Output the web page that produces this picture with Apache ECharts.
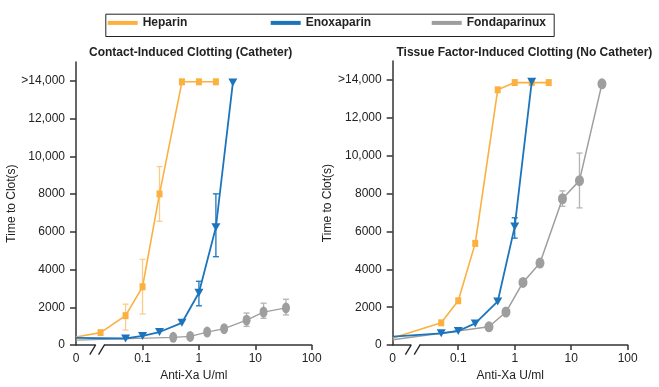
<!DOCTYPE html>
<html><head><meta charset="utf-8">
<script src="https://cdn.jsdelivr.net/npm/echarts@6/dist/echarts.min.js"></script>
<style>html,body{margin:0;padding:0;background:#fff}#c{width:659px;height:387px}</style>
</head><body><div id="c"></div>
<script>
// ---------- data ----------
const seriesNames = ['Heparin', 'Enoxaparin', 'Fondaparinux'];
const panelTitles = ['Contact-Induced Clotting (Catheter)', 'Tissue Factor-Induced Clotting (No Catheter)'];
const xTickValues = [0, 0.1, 1, 10, 100];
const xTickLabels = ['0', '0.1', '1', '10', '100'];
const yTickValues = [0, 2000, 4000, 6000, 8000, 10000, 12000, 14000];
const yTickLabels = ['0', '2000', '4000', '6000', '8000', '10,000', '12,000', '>14,000'];

// Left panel: contact-induced (catheter)
const heparinDoseL = [0, 0.018, 0.05, 0.1, 0.2, 0.5, 1, 2];
const heparinTimeL = [430, 660, 1560, 3090, 8010, 13950, 13950, 13950];
const heparinErrL  = [null, null, [800, 2170], [1650, 4540], [6560, 9460], null, null, null];
const enoxDoseL = [0, 0.05, 0.1, 0.2, 0.5, 1, 2, 4];
const enoxTimeL = [380, 350, 484, 692, 1181, 2774, 6245, 13910];
const enoxErrL  = [null, null, null, null, null, [2082, 3383], [4684, 8014], null];
const fondaDoseL = [0, 0.35, 0.7, 1.4, 2.8, 7, 14, 35];
const fondaTimeL = [260, 410, 460, 690, 870, 1320, 1750, 1970];
const fondaErrL  = [null, null, null, null, null, [990, 1700], [1420, 2220], [1600, 2430]];

// Right panel: tissue factor-induced (no catheter)
const heparinDoseR = [0, 0.05, 0.1, 0.2, 0.5, 1, 2, 4];
const heparinTimeR = [380, 1175, 2340, 5370, 13480, 13860, 13860, 13860];
const heparinErrR  = [null, null, null, null, null, null, null, null];
const enoxDoseR = [0, 0.05, 0.1, 0.2, 0.5, 1, 2];
const enoxTimeR = [450, 624, 744, 1144, 2304, 6256, 13900];
const enoxErrR  = [null, null, null, null, null, [5647, 6723], null];
const fondaDoseR = [0, 0.35, 0.7, 1.4, 2.8, 7, 14, 35];
const fondaTimeR = [280, 967, 1747, 3307, 4332, 7727, 8684, 13796];
const fondaErrR  = [null, null, null, null, null, [7332, 8143], [7244, 10140], null];

// ---------- styles ----------
const FONT = 'Liberation Sans, Arial, Helvetica, sans-serif';
const TXT = '#222';
const AX = '#333';
const colors = { Heparin: '#FBB040', Enoxaparin: '#1C75BC', Fondaparinux: '#9E9E9E' };
const errColors = { Heparin: '#FCCB8C', Enoxaparin: '#1C75BC', Fondaparinux: '#B3B3B3' };
const T0 = [-2.18, -2.16];      // axis position used for dose 0 (log10 units)
const T_BREAK = -1.76;          // position of the axis break
const X_MAX = 2;                // log10(100)
const legendLefts = [107.7, 270.7, 431.7];

function tx(d, p) { return d === 0 ? T0[p] : Math.log10(d); }

function lineSeries(name, doses, times, p, sym) {
  return {
    type: 'line', name: name, xAxisIndex: p, yAxisIndex: p,
    data: doses.map((d, i) => d === 0 ? { value: [tx(d, p), times[i]], symbol: 'none' } : [tx(d, p), times[i]]),
    symbol: sym.symbol, symbolSize: sym.size, symbolRotate: sym.rotate || 0,
    showSymbol: true,
    lineStyle: { color: colors[name], width: sym.lw },
    itemStyle: { color: colors[name] },
    emphasis: { disabled: true }, z: sym.z, animation: false, silent: true
  };
}

function errSeries(name, doses, errs, p) {
  const data = [];
  doses.forEach((d, i) => { if (errs[i]) data.push([tx(d, p), errs[i][0], errs[i][1]]); });
  return {
    type: 'custom', name: name + '-err', xAxisIndex: p, yAxisIndex: p, data: data,
    encode: { x: 0, y: [1, 2] }, z: 1, animation: false, silent: true,
    renderItem: (params, api) => {
      const x = api.value(0);
      const pl = api.coord([x, api.value(1)]);
      const ph = api.coord([x, api.value(2)]);
      const w = 3;
      const st = { stroke: errColors[name], lineWidth: 1.3 };
      return { type: 'group', children: [
        { type: 'line', shape: { x1: pl[0], y1: pl[1], x2: ph[0], y2: ph[1] }, style: st },
        { type: 'line', shape: { x1: ph[0] - w, y1: ph[1], x2: ph[0] + w, y2: ph[1] }, style: st },
        { type: 'line', shape: { x1: pl[0] - w, y1: pl[1], x2: pl[0] + w, y2: pl[1] }, style: st }
      ]};
    }
  };
}

function breakSeries(p) {
  return {
    type: 'custom', name: 'break' + p, xAxisIndex: p, yAxisIndex: p, data: [[T_BREAK, 0]],
    encode: { x: 0, y: 1 }, z: 10, clip: false, animation: false, silent: true,
    renderItem: (params, api) => {
      const c = api.coord([api.value(0), 0]);
      const h = 4.4;
      const st = { stroke: '#222', lineWidth: 1.3 };
      return { type: 'group', children: [
        { type: 'rect', shape: { x: c[0] - h, y: c[1] - 1.5, width: 2 * h, height: 3 }, style: { fill: '#fff' } },
        { type: 'line', shape: { x1: c[0] - h - 5.5, y1: c[1] + 9.5, x2: c[0] - h + 0.5, y2: c[1] - 0.5 }, style: st },
        { type: 'line', shape: { x1: c[0] + h - 5.5, y1: c[1] + 9.5, x2: c[0] + h + 0.5, y2: c[1] - 0.5 }, style: st }
      ]};
    }
  };
}

function xAxisCfg(p) {
  return {
    type: 'value', gridIndex: p, min: T0[p], max: X_MAX,
    axisLine: { show: true, onZero: false, lineStyle: { color: AX, width: 1.5 } },
    axisTick: { show: true, length: 5, lineStyle: { color: AX, width: 1.5 },
      customValues: xTickValues.filter(v => v > 0).map(v => tx(v, p)) },
    axisLabel: { customValues: xTickValues.map(v => tx(v, p)), margin: 8,
      fontSize: 12, color: TXT, fontFamily: FONT,
      formatter: (val) => {
        let best = 0, bd = 1e9;
        xTickValues.forEach((v, i) => { const dd = Math.abs(tx(v, p) - val); if (dd < bd) { bd = dd; best = i; } });
        return xTickLabels[best];
      } },
    splitLine: { show: false },
    name: 'Anti-Xa U/ml', nameLocation: 'middle', nameGap: 22,
    nameTextStyle: { fontSize: 12, color: TXT, fontFamily: FONT }
  };
}

function yAxisCfg(p, gap) {
  return {
    type: 'value', gridIndex: p, min: 0, max: 15000,
    axisLine: { show: true, onZero: false, lineStyle: { color: AX, width: 1.5 } },
    axisTick: { show: true, length: 6, lineStyle: { color: AX, width: 1.5 }, customValues: yTickValues },
    axisLabel: { customValues: yTickValues, margin: 11, fontSize: 12, color: TXT, fontFamily: FONT,
      formatter: (val) => { const i = yTickValues.indexOf(Math.round(val)); return i >= 0 ? yTickLabels[i] : ''; } },
    splitLine: { show: false },
    name: 'Time to Clot(s)', nameLocation: 'middle', nameGap: gap,
    nameTextStyle: { fontSize: 12, color: TXT, fontFamily: FONT }
  };
}

const symH = { symbol: 'rect', size: [6, 7], lw: 1.6, z: 3 };
const symE = { symbol: 'triangle', size: [9, 8], rotate: 180, lw: 1.8, z: 4 };
const symF = { symbol: 'circle', size: [8, 11], lw: 1.3, z: 2 };
const symFR = { symbol: 'circle', size: [9, 11], lw: 1.5, z: 2 };

const legendTextBase = { fontSize: 12, fontWeight: 'bold', color: TXT, fontFamily: FONT };

const option = {
  backgroundColor: '#fff',
  animation: false,
  title: [
    { text: panelTitles[0], left: 89, top: 46.5, padding: 0,
      textStyle: { fontSize: 12, fontWeight: 'bold', color: TXT, fontFamily: FONT } },
    { text: panelTitles[1], left: 396.5, top: 47, padding: 0,
      textStyle: { fontSize: 12, fontWeight: 'bold', color: TXT, fontFamily: FONT } }
  ],
  legend: seriesNames.map((n, i) => ({
    left: legendLefts[i], top: 16.9, padding: 0,
    icon: 'rect', itemWidth: 30, itemHeight: 4, selectedMode: false,
    data: [n], textStyle: legendTextBase
  })),
  graphic: [{
    type: 'rect', left: 103.3, top: 11.7, silent: true,
    shape: { width: 448.4, height: 22.3 },
    style: { fill: 'none', stroke: '#222', lineWidth: 1 }
  }],
  grid: [
    { left: 76, top: 62, width: 235.7, height: 288, containLabel: false },
    { left: 392.7, top: 61, width: 235, height: 288.3, containLabel: false }
  ],
  xAxis: [xAxisCfg(0), xAxisCfg(1)],
  yAxis: [yAxisCfg(0, 51), yAxisCfg(1, 46)],
  series: [
    errSeries('Heparin', heparinDoseL, heparinErrL, 0),
    errSeries('Enoxaparin', enoxDoseL, enoxErrL, 0),
    errSeries('Fondaparinux', fondaDoseL, fondaErrL, 0),
    lineSeries('Fondaparinux', fondaDoseL, fondaTimeL, 0, symF),
    lineSeries('Heparin', heparinDoseL, heparinTimeL, 0, symH),
    lineSeries('Enoxaparin', enoxDoseL, enoxTimeL, 0, symE),
    errSeries('Heparin', heparinDoseR, heparinErrR, 1),
    errSeries('Enoxaparin', enoxDoseR, enoxErrR, 1),
    errSeries('Fondaparinux', fondaDoseR, fondaErrR, 1),
    lineSeries('Fondaparinux', fondaDoseR, fondaTimeR, 1, symFR),
    lineSeries('Heparin', heparinDoseR, heparinTimeR, 1, symH),
    lineSeries('Enoxaparin', enoxDoseR, enoxTimeR, 1, symE),
    breakSeries(0),
    breakSeries(1)
  ]
};

const chart = echarts.init(document.getElementById('c'), null, { renderer: 'canvas' });
chart.setOption(option);
</script>
</body></html>
